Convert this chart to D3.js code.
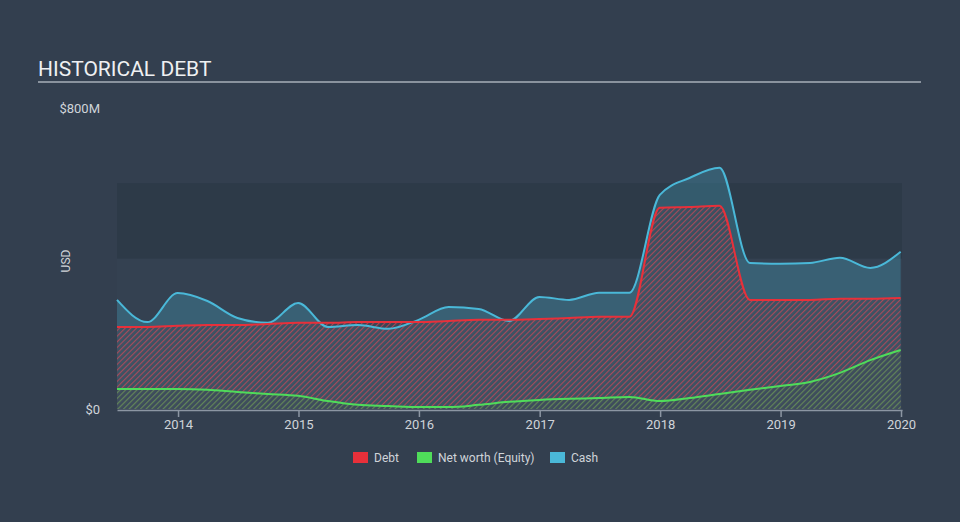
<!DOCTYPE html>
<html>
<head>
<meta charset="utf-8">
<script src="https://cdn.jsdelivr.net/npm/d3@7"></script>
<style>
  html, body { margin: 0; padding: 0; background: #333f4f; }
  svg { display: block; font-family: Roboto, "Noto Sans", sans-serif; }
</style>
</head>
<body>
<svg id="chart" width="960" height="522"></svg>
<script>
// ---- data (values in $M) ----
const dates = ["2013-06-30","2013-09-30","2013-12-31","2014-03-31","2014-06-30","2014-09-30","2014-12-31",
  "2015-03-31","2015-06-30","2015-09-30","2015-12-31","2016-03-31","2016-06-30","2016-09-30","2016-12-31",
  "2017-03-31","2017-06-30","2017-09-30","2017-12-31","2018-03-31","2018-06-30","2018-09-30","2018-12-31",
  "2019-03-31","2019-06-30","2019-09-30","2019-12-31"];
const debt = [218,218,221,223,223,226,229,229,231,231,231,234,237,237,239,242,245,245,535,537,540,290,290,290,293,293,295];
const equity = [53,53,53,51,45,40,35,21,11,8,5,5,11,19,24,27,29,32,21,29,40,51,61,72,96,130,157];
const cash = [290,231,308,287,242,229,282,218,223,213,237,271,266,234,298,290,309,309,569,614,641,388,386,388,402,375,418];
const xTickLabels = ["2014","2015","2016","2017","2018","2019","2020"];
const yTickLabels = ["$0","$800M"];
const yTickValues = [0, 800];
const seriesNames = ["Debt","Net worth (Equity)","Cash"];
const seriesColors = ["#e8303a","#4fdc5a","#4ab8d8"];

const parse = d3.timeParse("%Y-%m-%d");
const rows = dates.map((d, i) => ({ t: parse(d), debt: debt[i], equity: equity[i], cash: cash[i] }));

const svg = d3.select("#chart");
const x = d3.scaleTime().domain([parse("2013-06-30"), parse("2020-01-04")]).range([117, 902]);
const y = d3.scaleLinear().domain([0, 800]).range([409, 108]);

// background
svg.append("rect").attr("width", 960).attr("height", 522).attr("fill", "#333f4f");

// title
svg.append("text").attr("x", 38).attr("y", 76).attr("fill", "#eef0f2")
  .attr("font-size", 21).text("HISTORICAL DEBT");
svg.append("line").attr("x1", 38).attr("x2", 921).attr("y1", 82).attr("y2", 82)
  .attr("stroke", "#a9b0b8").attr("stroke-width", 1.5);

// plot bands
svg.append("rect").attr("x", 117).attr("width", 785).attr("y", y(400)).attr("height", y(0) - y(400)).attr("fill", "#344151");
svg.append("rect").attr("x", 117).attr("width", 785).attr("y", y(600)).attr("height", y(400) - y(600)).attr("fill", "#2d3a48");

// patterns
const defs = svg.append("defs");
function hatch(id, color, op) {
  const p = defs.append("pattern").attr("id", id).attr("patternUnits", "userSpaceOnUse")
    .attr("width", 4).attr("height", 4).attr("patternTransform", "rotate(45)");
  p.append("rect").attr("width", 4).attr("height", 4).attr("fill", "#3d4656").attr("fill-opacity", 0.55);
  p.append("line").attr("x1", 0).attr("x2", 0).attr("y1", 0).attr("y2", 4)
    .attr("stroke", color).attr("stroke-width", 2.2).attr("stroke-opacity", op);
}
hatch("hDebt", "#de4556", 0.68);
hatch("hEq", "#4fb35a", 0.6);

const curve = d3.curveMonotoneX;
const area = key => d3.area().x(d => x(d.t)).y0(y(0)).y1(d => y(d[key])).curve(curve);
const line = key => d3.line().x(d => x(d.t)).y(d => y(d[key])).curve(curve);

svg.append("path").datum(rows).attr("d", area("cash")).attr("fill", "#4ab8d8").attr("fill-opacity", 0.26);
svg.append("path").datum(rows).attr("d", area("debt")).attr("fill", "url(#hDebt)");
svg.append("path").datum(rows).attr("d", area("equity")).attr("fill", "url(#hEq)");

svg.append("path").datum(rows).attr("d", line("cash")).attr("fill", "none").attr("stroke", seriesColors[2]).attr("stroke-width", 2);
svg.append("path").datum(rows).attr("d", line("debt")).attr("fill", "none").attr("stroke", seriesColors[0]).attr("stroke-width", 2);
svg.append("path").datum(rows).attr("d", line("equity")).attr("fill", "none").attr("stroke", seriesColors[1]).attr("stroke-width", 2);

// x axis
const xTicks = xTickLabels.map(s => parse(s + "-01-01"));
const xAxis = d3.axisBottom(x).tickValues(xTicks).tickFormat((d, i) => xTickLabels[i]).tickSize(7).tickSizeOuter(0);
const gx = svg.append("g").attr("transform", `translate(0,${y(0) + 1})`).call(xAxis);
gx.select(".domain").attr("stroke", "#8c96a3").attr("stroke-width", 1.5);
gx.selectAll(".tick line").attr("stroke", "#8c96a3").attr("stroke-width", 1.5);
gx.selectAll(".tick text").attr("fill", "#d0d4d9").attr("font-size", 13)
  .attr("font-family", "Roboto, sans-serif");

// y axis labels
const yAxis = d3.axisLeft(y).tickValues(yTickValues).tickFormat((d, i) => yTickLabels[i]).tickSize(0);
const gy = svg.append("g").attr("transform", "translate(103,0)").call(yAxis);
gy.select(".domain").remove();
gy.selectAll(".tick text").attr("fill", "#d0d4d9").attr("font-size", 13).attr("font-family", "Roboto, sans-serif");

svg.append("text").attr("transform", "translate(70,261) rotate(-90)").attr("text-anchor", "middle")
  .attr("fill", "#d0d4d9").attr("font-size", 12).text("USD");

// legend
const legX = [353, 417, 550];
seriesNames.forEach((n, i) => {
  svg.append("rect").attr("x", legX[i]).attr("y", 452).attr("width", 15).attr("height", 11).attr("fill", seriesColors[i]);
  svg.append("text").attr("x", legX[i] + 21).attr("y", 461.5).attr("fill", "#d0d4d9").attr("font-size", 12).text(n);
});
</script>
</body>
</html>
